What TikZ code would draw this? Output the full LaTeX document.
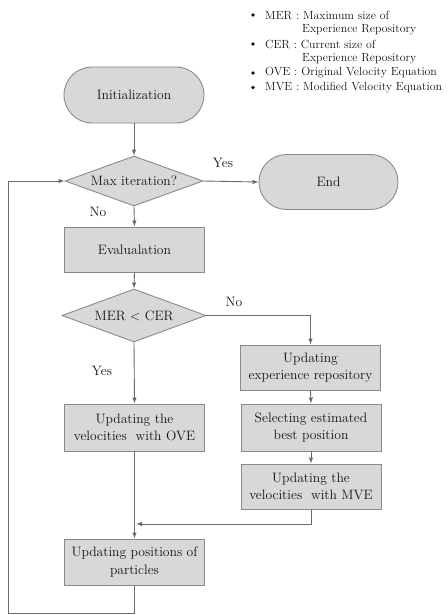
\documentclass[tikz,border=0pt]{standalone}
\usetikzlibrary{shapes.geometric,shapes.misc,arrows.meta}
\definecolor{boxfill}{HTML}{D8D8D8}
\definecolor{boxline}{HTML}{8A8A8A}
\definecolor{wire}{HTML}{6A6A6A}
\definecolor{ink}{HTML}{141414}
\begin{document}
\begin{tikzpicture}[x=1pt,y=-1pt,
  every node/.style={text=ink},
  base/.style={draw=boxline,fill=boxfill,line width=0.9pt,inner sep=0pt,
    font=\fontsize{13.6}{17.5}\selectfont,align=center},
  terminal/.style={base,rounded rectangle,minimum width=140,minimum height=56},
  procbox/.style={base,rectangle,minimum width=140,minimum height=46},
  decision/.style={base,diamond,minimum width=#1,minimum height=52},
  dtext/.style={font=\fontsize{13.6}{17.5}\selectfont,inner sep=0pt},
  lbl/.style={font=\fontsize{13.6}{17.5}\selectfont,inner sep=0pt},
  legend/.style={font=\fontsize{11.8}{14.5}\selectfont,inner sep=0pt,anchor=west},
  bul/.style={fill=ink,circle,inner sep=0pt,minimum size=3.8pt},
  flow/.style={draw=wire,line width=0.9pt,-{Latex[length=6pt,width=4.5pt]}},
  plain/.style={draw=wire,line width=0.9pt}]
\useasboundingbox (0,0) rectangle (447,615);

% legend
\node[bul] (b1) at (253,15) {};
\node[legend] (l1) at (265,15) {MER : Maximum size of};
\node[legend] (l1b) at (302,29.5) {Experience Repository};
\node[bul] (b2) at (253,44) {};
\node[legend] (l2) at (265,44) {CER : Current size of};
\node[legend] (l2b) at (302,58.5) {Experience Repository};
\node[bul] (b3) at (253,73) {};
\node[legend] (l3) at (265,73) {OVE : Original Velocity Equation};
\node[bul] (b4) at (253,87.5) {};
\node[legend] (l4) at (265,87.5) {MVE : Modified Velocity Equation};

% flowchart nodes
\node[terminal] (init) at (134,95) {Initialization};
\node[decision=138,minimum height=50] (d1) at (134,181) {};
\node[dtext] (d1t) at (d1.center) {Max iteration?};
\node[terminal,minimum width=139,minimum height=55] (end) at (328.5,182) {End};
\node[procbox,minimum height=45] (eval) at (134.5,249.5) {Evalualation};
\node[decision=144,minimum height=53] (d2) at (134,315.5) {};
\node[dtext] (d2t) at (d2.center) {MER {\textless} CER};
\node[procbox,minimum height=45] (upd) at (310.5,367.5) {Updating\\experience repository};
\node[procbox,minimum height=47] (ove) at (134.5,427.5) {Updating the\\velocities\ \ with OVE};
\node[procbox,minimum height=47] (sel) at (311,427.5) {Selecting estimated\\best position};
\node[procbox,minimum height=45] (mve) at (311,486.5) {Updating the\\velocities\ \ with MVE};
\node[procbox,minimum height=46] (pos) at (134.5,562) {Updating positions of\\particles};

% helper points for the loop and the merge
\coordinate (join) at (134.5,524);
\coordinate (c1) at (134.5,613);
\coordinate (c2) at (8,613);

% connectors
\draw[flow] (init.south) -- (d1.north);
\draw[flow] (d1.east) -- (end.west);
\draw[flow] (d1.south) -- (eval.north);
\draw[flow] (eval.south) -- (d2.north);
\draw[flow] (d2.east) -| (upd.north);
\draw[flow] (d2.south) -- (ove.north);
\draw[flow] (upd.south) -- (sel.north);
\draw[flow] (sel.south) -- (mve.north);
\draw[flow] (ove.south) -- (pos.north);
\draw[flow] (mve.south) |- ([xshift=1.5pt]join);
\draw[flow] (pos.south) -- (c1) -- (c2) |- (d1.west);

% branch labels
\node[lbl] (yes1) at (223,163) {Yes};
\node[lbl] (no1) at (98,212) {No};
\node[lbl] (no2) at (234,302) {No};
\node[lbl] (yes2) at (102,371) {Yes};
\end{tikzpicture}
\end{document}
